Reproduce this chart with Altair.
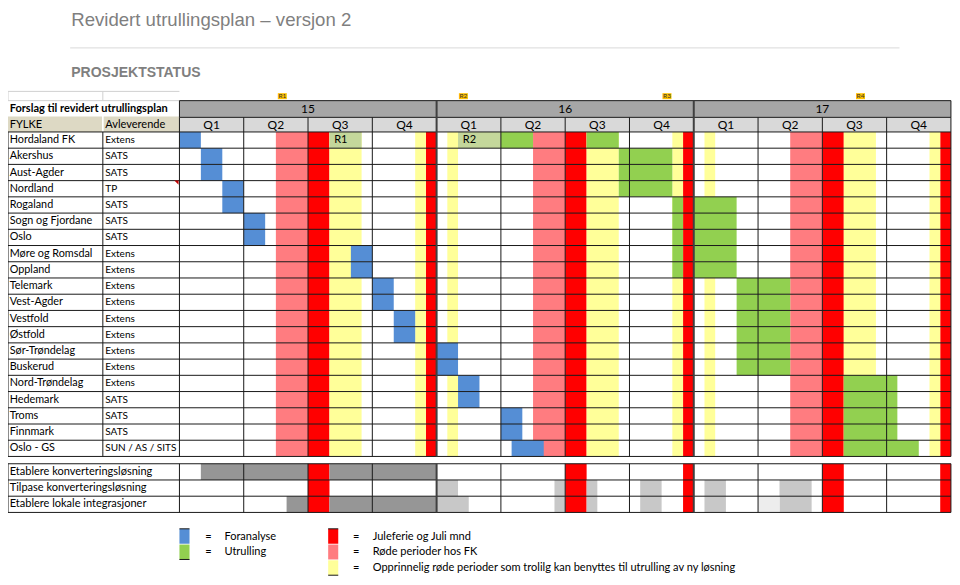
import altair as alt
import pandas as pd

# ------------------------------------------------------------------ data
ROWS = ["Hordaland FK", "Akershus", "Aust-Agder", "Nordland", "Rogaland",
        "Sogn og Fjordane", "Oslo", "Møre og Romsdal", "Oppland", "Telemark",
        "Vest-Agder", "Vestfold", "Østfold", "Sør-Trøndelag", "Buskerud",
        "Nord-Trøndelag", "Hedemark", "Troms", "Finnmark", "Oslo - GS"]
SUPPLIERS = ["Extens", "SATS", "SATS", "TP", "SATS", "SATS", "SATS", "Extens",
             "Extens", "Extens", "Extens", "Extens", "Extens", "Extens", "Extens",
             "Extens", "SATS", "SATS", "SATS", "SUN / AS / SITS"]
# months counted from January 2015 (0 = Jan 15, 12 = Jan 16, 24 = Jan 17)
FORANALYSE_START = [0, 1, 1, 2, 2, 3, 3, 8, 8, 9, 9, 10, 10, 12, 12, 13, 13, 15, 15, 15.5]
FORANALYSE_END = [1, 2, 2, 3, 3, 4, 4, 9, 9, 10, 10, 11, 11, 13, 13, 14, 14, 16, 16, 17]
UTRULLING = [
    [(15, 16.5), (19, 20.5)],
    [(20.5, 23)], [(20.5, 23)], [(20.5, 23)],
    [(23, 23.5), (24, 26)], [(23, 23.5), (24, 26)], [(23, 23.5), (24, 26)],
    [(23, 23.5), (24, 26)], [(23, 23.5), (24, 26)],
    [(26, 28.5)], [(26, 28.5)], [(26, 28.5)], [(26, 28.5)], [(26, 28.5)], [(26, 28.5)],
    [(31, 33.5)], [(31, 33.5)], [(31, 33.5)], [(31, 33.5)],
    [(31, 34.5)],
]
RELEASE_CELL_LABEL = ["R1", "R2"]
RELEASE_CELL_START = [7, 13]
RELEASE_CELL_END = [8.5, 15]
RELEASE_MARK_LABEL = ["R1", "R2", "R3", "R4"]
RELEASE_MARK_POS = [4.8, 13.25, 22.75, 31.78]

YEARS = ["15", "16", "17"]
QUARTERS = ["Q1", "Q2", "Q3", "Q4"]
PINK = [(4.5, 6)]
RED = [(6, 7), (11.5, 12)]
YELLOW = [(7, 8.5), (11, 11.5)]
YELLOW_JAN = [(0.5, 1)]          # only 2016 and 2017

TASKS = ["Etablere konverteringsløsning", "Tilpase konverteringsløsning",
         "Etablere lokale integrasjoner"]
TASK_DARK = [[(1, 6), (7, 12)], [], [(5, 6), (7, 12)]]
TASK_LIGHT = [[],
              [(12, 13), (17.5, 18), (19, 19.5), (21.5, 22.5), (24.5, 25.5), (28, 29.5)],
              [(12, 13.5), (17.5, 18), (19, 19.5), (21.5, 22.5), (24.5, 25.5), (28, 29.5)]]
TASK_FAINT = [[], [], [(27, 28)]]
TASK_RED = [(6, 7), (18, 19), (23.5, 24), (30, 31), (35.5, 36)]

LEGEND_LEFT = ["Foranalyse", "Utrulling"]
LEGEND_LEFT_KIND = ["blue", "green"]
LEGEND_RIGHT = ["Juleferie og Juli mnd", "Røde perioder hos FK",
                "Opprinnelig røde perioder som trolilg kan benyttes til utrulling av ny løsning"]
LEGEND_RIGHT_KIND = ["red", "pink", "yellow"]

TITLE = "Revidert utrullingsplan – versjon 2"
SUBTITLE = "PROSJEKTSTATUS"
TABLE_TITLE = "Forslag til revidert utrullingsplan"
COL_HEADERS = ["FYLKE", "Avleverende"]

COLORS = {
    "blue": "#558ED5", "green": "#92D050", "olive": "#C4D79B", "pink": "#FF7C80",
    "red": "#FF0000", "yellow": "#FFFF99", "dark": "#969696", "light": "#C8C8C8",
    "faint": "#EDEDED", "year": "#A6A6A6", "quarter": "#D9D9D9", "tan": "#DDD9C4",
    "gold": "#FFC000",
}

# ------------------------------------------------------------------ layout (units)
W, H = 944, 569
X_DOMAIN = [-8.0, 36.05]          # months
Y_DOMAIN = [-7.64, 27.43]         # row units (0 = top of first county row)
COL0, COL1, GRID0, GRID1 = -8.0, -3.575, 0, 36
TXT0, TXT1 = -7.92, -3.46
NROW = len(ROWS)
YEAR_TOP, YEAR_BOT = -1.93, -0.9
EMPTY_TOP = -2.5
TASK_TOP = 20.45
LEG_Y = [24.46, 25.43, 26.4]
LEG_H = 0.92
FONT = "Lato"

xs = alt.Scale(domain=X_DOMAIN, range=[0, W], nice=False, zero=False)
ys = alt.Scale(domain=Y_DOMAIN, range=[0, H], nice=False, zero=False)
colscale = alt.Scale(domain=list(COLORS.keys()), range=list(COLORS.values()))


def X(f="x"):
    return alt.X(f"{f}:Q", scale=xs, axis=None)


def Y(f="y"):
    return alt.Y(f"{f}:Q", scale=ys, axis=None)


# ------------------------------------------------------------------ rectangles
bg, fg = [], []
for yi in range(len(YEARS)):
    off = 12 * yi
    periods = [("pink", p) for p in PINK] + [("red", p) for p in RED] + \
              [("yellow", p) for p in YELLOW]
    if yi > 0:
        periods += [("yellow", p) for p in YELLOW_JAN]
    for kind, (a, b) in periods:
        bg.append(dict(x=a + off, x2=b + off, y=0, y2=NROW, kind=kind))
for a, b in TASK_RED:
    bg.append(dict(x=a, x2=b, y=TASK_TOP, y2=TASK_TOP + len(TASKS), kind="red"))
# header backgrounds
bg.append(dict(x=GRID0, x2=GRID1, y=YEAR_TOP, y2=YEAR_BOT, kind="year"))
bg.append(dict(x=GRID0, x2=GRID1, y=YEAR_BOT, y2=0, kind="quarter"))
bg.append(dict(x=COL0, x2=COL1 - 0.04, y=YEAR_BOT - 0.05, y2=0, kind="tan"))
bg.append(dict(x=COL1 + 0.04, x2=GRID0, y=YEAR_BOT - 0.05, y2=0, kind="tan"))

for i in range(NROW):
    fg.append(dict(x=FORANALYSE_START[i], x2=FORANALYSE_END[i], y=i, y2=i + 1, kind="blue"))
    for a, b in UTRULLING[i]:
        fg.append(dict(x=a, x2=b, y=i, y2=i + 1, kind="green"))
for a, b in zip(RELEASE_CELL_START, RELEASE_CELL_END):
    fg.append(dict(x=a, x2=b, y=0, y2=1, kind="olive"))
for t in range(len(TASKS)):
    for kind, lst in (("dark", TASK_DARK[t]), ("light", TASK_LIGHT[t]), ("faint", TASK_FAINT[t])):
        for a, b in lst:
            fg.append(dict(x=a, x2=b, y=TASK_TOP + t, y2=TASK_TOP + t + 1, kind=kind))
for p in RELEASE_MARK_POS:
    fg.append(dict(x=p - 0.21, x2=p + 0.21, y=-2.39, y2=-2.02, kind="gold"))
# legend squares
for j, k in enumerate(LEGEND_LEFT_KIND):
    fg.append(dict(x=0, x2=0.47, y=LEG_Y[j], y2=LEG_Y[j] + LEG_H, kind=k))
for j, k in enumerate(LEGEND_RIGHT_KIND):
    fg.append(dict(x=6.94, x2=7.41, y=LEG_Y[j], y2=LEG_Y[j] + LEG_H, kind=k))


def rect_layer(rows):
    return alt.Chart(pd.DataFrame(rows)).mark_rect(strokeWidth=0).encode(
        x=X("x"), x2="x2", y=Y("y"), y2="y2",
        color=alt.Color("kind:N", scale=colscale, legend=None))


# ------------------------------------------------------------------ lines
thin, thick, pale = [], [], []
quarters_inner = [q for q in range(3, 36, 3) if q % 12 != 0]
year_lines = [12, 24]
# county block
for r in range(NROW + 1):
    thin.append(dict(x=COL0, x2=GRID1, y=r, y2=r))
for xv in [COL0, COL1, GRID0, GRID1] + quarters_inner:
    thin.append(dict(x=xv, x2=xv, y=YEAR_BOT if xv >= 0 else 0, y2=NROW))
for xv in year_lines:
    thick.append(dict(x=xv, x2=xv, y=YEAR_TOP, y2=NROW))
# header
thin.append(dict(x=GRID0, x2=GRID1, y=YEAR_TOP, y2=YEAR_TOP))
thin.append(dict(x=GRID0, x2=GRID1, y=YEAR_BOT, y2=YEAR_BOT))
thin.append(dict(x=GRID0, x2=GRID0, y=YEAR_TOP, y2=YEAR_BOT))
thin.append(dict(x=GRID1, x2=GRID1, y=YEAR_TOP, y2=YEAR_BOT))
pale.append(dict(x=COL0, x2=GRID0, y=EMPTY_TOP, y2=EMPTY_TOP))
pale.append(dict(x=COL0, x2=GRID0, y=YEAR_TOP, y2=YEAR_TOP))
pale.append(dict(x=COL0, x2=COL0, y=EMPTY_TOP, y2=YEAR_TOP))
pale.append(dict(x=COL1, x2=COL1, y=EMPTY_TOP, y2=YEAR_TOP))
# task block
for t in range(len(TASKS) + 1):
    thin.append(dict(x=COL0, x2=GRID1, y=TASK_TOP + t, y2=TASK_TOP + t))
for xv in [COL0, GRID0, GRID1] + quarters_inner:
    thin.append(dict(x=xv, x2=xv, y=TASK_TOP, y2=TASK_TOP + len(TASKS)))
for xv in year_lines:
    thick.append(dict(x=xv, x2=xv, y=TASK_TOP, y2=TASK_TOP + len(TASKS)))
# legend square edges
for xa in (0, 6.94):
    thin.append(dict(x=xa, x2=xa + 0.47, y=LEG_Y[0], y2=LEG_Y[0]))
thin.append(dict(x=0, x2=0.47, y=LEG_Y[1] + LEG_H, y2=LEG_Y[1] + LEG_H))
thin.append(dict(x=6.94, x2=7.41, y=LEG_Y[2] + LEG_H, y2=LEG_Y[2] + LEG_H))
# rule under title
title_rule = [dict(x=-5.1, x2=33.6, y=-5.18, y2=-5.18)]


def rule_layer(rows, color, width):
    return alt.Chart(pd.DataFrame(rows)).mark_rule(color=color, strokeWidth=width).encode(
        x=X("x"), x2="x2", y=Y("y"), y2="y2")


# ------------------------------------------------------------------ texts
name_txt, task_txt, supp_txt, small_txt = [], [], [], []
for i in range(NROW):
    name_txt.append(dict(x=TXT0, y=i + 0.5, t=ROWS[i]))
    supp_txt.append(dict(x=TXT1, y=i + 0.5, t=SUPPLIERS[i]))
for t, name in enumerate(TASKS):
    task_txt.append(dict(x=TXT0, y=TASK_TOP + t + 0.5, t=name))
small_txt.append(dict(x=TXT0, y=-0.45, t=COL_HEADERS[0]))
small_txt.append(dict(x=TXT1, y=-0.45, t=COL_HEADERS[1]))
for lab, a in zip(RELEASE_CELL_LABEL, RELEASE_CELL_START):
    small_txt.append(dict(x=a + 0.22, y=0.5, t=lab))
for j, lab in enumerate(LEGEND_LEFT):
    small_txt.append(dict(x=2.1, y=LEG_Y[j] + 0.48, t=lab))
    small_txt.append(dict(x=1.2, y=LEG_Y[j] + 0.48, t="="))
for j, lab in enumerate(LEGEND_RIGHT):
    small_txt.append(dict(x=9.02, y=LEG_Y[j] + 0.48, t=lab))
    small_txt.append(dict(x=8.1, y=LEG_Y[j] + 0.48, t="="))

center_txt = []
for yi, yr in enumerate(YEARS):
    center_txt.append(dict(x=12 * yi + 6, y=(YEAR_TOP + YEAR_BOT) / 2, t=yr))
    for qi, q in enumerate(QUARTERS):
        center_txt.append(dict(x=12 * yi + 3 * qi + 1.5, y=YEAR_BOT / 2, t=q))

mark_txt = [dict(x=p, y=-2.2, t=l) for p, l in zip(RELEASE_MARK_POS, RELEASE_MARK_LABEL)]


def text_layer(rows, **kw):
    return alt.Chart(pd.DataFrame(rows)).mark_text(baseline="middle", **kw).encode(
        x=X("x"), y=Y("y"), text="t:N")


layers = [
    rect_layer(bg),
    rect_layer(fg),
    rule_layer(pale, "#D0D0D0", 1),
    rule_layer(title_rule, "#D9D9D9", 1),
    rule_layer(thin, "#1A1A1A", 1),
    rule_layer(thick, "#404040", 2),
    text_layer(name_txt, align="left", font=FONT, fontSize=10.8, color="#000000"),
    text_layer(task_txt, align="left", font=FONT, fontSize=11, color="#000000"),
    text_layer(supp_txt, align="left", font=FONT, fontSize=10, color="#000000"),
    text_layer(small_txt, align="left", font=FONT, fontSize=11, color="#000000"),
    text_layer(center_txt, align="center", font=FONT, fontSize=12, color="#000000"),
    text_layer(mark_txt, align="center", font=FONT, fontSize=6.5, color="#333333"),
    text_layer([dict(x=TXT0, y=-1.42, t=TABLE_TITLE)], align="left", font=FONT,
               fontSize=11, fontWeight="bold", color="#000000"),
    alt.Chart(pd.DataFrame([dict(x=-5.05, y=-6.56, t=TITLE)])).mark_text(
        align="left", baseline="alphabetic", font="Liberation Sans", fontSize=18.6,
        color="#7F7F7F").encode(x=X("x"), y=Y("y"), text="t:N"),
    alt.Chart(pd.DataFrame([dict(x=-5.05, y=-3.39, t=SUBTITLE)])).mark_text(
        align="left", baseline="alphabetic", font="Liberation Sans", fontSize=14,
        fontWeight="bold", color="#7F7F7F").encode(x=X("x"), y=Y("y"), text="t:N"),
    alt.Chart(pd.DataFrame([dict(x=-0.14, y=3.13)])).mark_point(
        shape="M -1 -1 L 1 -1 L 1 1 Z", size=18, filled=True, color="#C00000",
        opacity=1).encode(x=X("x"), y=Y("y")),
]

chart = alt.layer(*layers).properties(
    width=W, height=H, padding=0, autosize="none"
).configure_view(stroke=None)

chart.save("out.html", embed_options={"renderer": "svg", "actions": False})
